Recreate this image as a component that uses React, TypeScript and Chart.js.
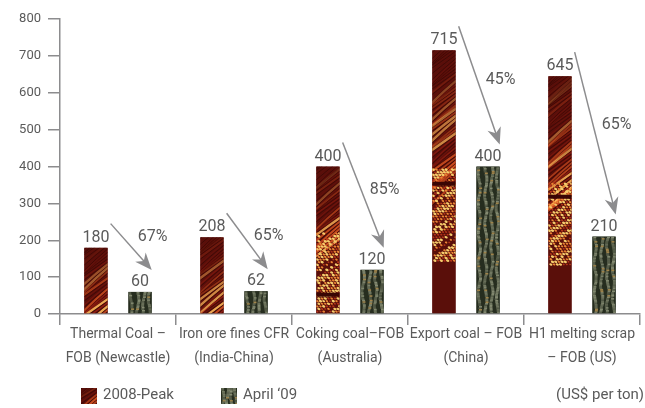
import React, { useEffect, useRef } from 'react';
import { Chart, registerables } from 'chart.js';

Chart.register(...registerables);

// Categories (two-line axis labels)
const categories: string[][] = [
  ['Thermal Coal –', 'FOB (Newcastle)'],
  ['Iron ore fines CFR', '(India-China)'],
  ['Coking coal–FOB', '(Australia)'],
  ['Export coal – FOB', '(China)'],
  ['H1 melting scrap', '– FOB (US)'],
];

// Prices, US$ per ton
const peak2008 = [180, 208, 400, 715, 645];
const april09 = [60, 62, 120, 400, 210];

// Decline from peak to April '09
const declineLabels = ['67%', '65%', '85%', '45%', '65%'];

const yTicks = [0, 100, 200, 300, 400, 500, 600, 700, 800];
const seriesNames = ['2008-Peak', 'April ‘09'];
const unitNote = '(US$ per ton)';

const FONT = 'Roboto, "DejaVu Sans", sans-serif';
const TEXT = '#5a5a5a';
const AXIS = '#8c8c8e';

const hash = (n: number) => {
  const s = Math.sin(n * 127.1 + 311.7) * 43758.5453;
  return s - Math.floor(s);
};

// Molten, ember-like fill for the 2008 peak bars
function paintEmber(ctx: CanvasRenderingContext2D, x: number, y: number, w: number, h: number) {
  ctx.save();
  ctx.beginPath();
  ctx.rect(x, y, w, h);
  ctx.clip();
  ctx.fillStyle = '#5a0f0a';
  ctx.fillRect(x, y, w, h);

  const tall = h > 180;
  const medium = !tall && h > 110;
  const streakEnd = tall || medium ? y + h * 0.5 : y + h;

  // diagonal streaks rising to the right, brighter further down
  for (let sy = y - w; sy < streakEnd + w * 0.5; sy += 3.5) {
    const i = Math.round(sy * 3.1 + x);
    const r = hash(i);
    const depth = tall || medium ? (sy - y) / (h * 0.5) : (sy - y) / h;
    const bright = Math.max(0, Math.min(1, depth * 1.05)) * (0.25 + r * 0.75);
    const col = r > 0.78 ? '255,185,90' : r > 0.42 ? '236,96,38' : '190,40,22';
    ctx.strokeStyle = `rgba(${col},${bright.toFixed(3)})`;
    ctx.lineWidth = 0.8 + r * 1.8;
    ctx.beginPath();
    const wob = Math.sin(sy * 0.3) * 3;
    ctx.moveTo(x - 2, sy + w * 0.5 + wob);
    ctx.quadraticCurveTo(x + w * 0.5, sy + wob * 0.3, x + w + 2, sy - w * 0.45);
    ctx.stroke();
    ctx.strokeStyle = 'rgba(36,4,2,0.5)';
    ctx.lineWidth = 0.9;
    ctx.beginPath();
    ctx.moveTo(x - 2, sy + w * 0.5 + wob + 2);
    ctx.quadraticCurveTo(x + w * 0.5, sy + wob * 0.3 + 2, x + w + 2, sy - w * 0.45 + 2);
    ctx.stroke();
  }

  // speckled, glowing section
  if (tall || medium) {
    const s0 = y + h * 0.45;
    const s1 = tall ? y + h * 0.8 : y + h;
    let row = 0;
    for (let sy = s0; sy < s1; sy += 2.6, row++) {
      for (let sx = x + (row % 2) * 1.6; sx < x + w; sx += 3.2) {
        const r = hash(Math.round(sx * 7 + sy * 13));
        if (r < 0.12) continue;
        const col = r > 0.72 ? '#f6cc6c' : r > 0.38 ? '#ea8434' : '#b3341a';
        ctx.fillStyle = col;
        ctx.beginPath();
        ctx.ellipse(sx + 1, sy + 1, 0.9 + r * 0.9, 0.7 + r * 0.5, 0.4, 0, Math.PI * 2);
        ctx.fill();
      }
    }
    // dark seam across the bar
    const band = tall ? y + h * 0.5 : y + h * 0.86;
    ctx.fillStyle = '#3a0604';
    ctx.fillRect(x, band, w, 4);
  }
  ctx.restore();
}

// Weathered, mossy fill for the April '09 bars
function paintMoss(ctx: CanvasRenderingContext2D, x: number, y: number, w: number, h: number) {
  ctx.save();
  ctx.beginPath();
  ctx.rect(x, y, w, h);
  ctx.clip();
  ctx.fillStyle = '#262d1f';
  ctx.fillRect(x, y, w, h);
  const cols = [0.12, 0.4, 0.66, 0.9];
  cols.forEach((c, k) => {
    for (let yy = y; yy < y + h; yy += 1.5) {
      const r = hash(Math.round(yy * 5 + k * 97));
      const off = Math.sin(yy * 0.21 + k * 1.7) * 1.1 + (r - 0.5) * 0.8;
      const a = 0.3 + r * 0.55;
      ctx.fillStyle = r > 0.9 ? `rgba(185,150,85,${a})` : `rgba(160,166,138,${a})`;
      ctx.fillRect(x + c * w - 1.5 + off, yy, 3, 1.6);
    }
  });
  ctx.restore();
}

function drawArrow(ctx: CanvasRenderingContext2D, x1: number, y1: number, x2: number, y2: number) {
  const ang = Math.atan2(y2 - y1, x2 - x1);
  const cos = Math.cos(ang);
  const sin = Math.sin(ang);
  const len = 17;
  const half = 7;
  const bx = x2 - cos * len;
  const by = y2 - sin * len;
  ctx.save();
  ctx.strokeStyle = AXIS;
  ctx.fillStyle = AXIS;
  ctx.lineWidth = 1.5;
  ctx.beginPath();
  ctx.moveTo(x1, y1);
  ctx.lineTo(x2 - cos * len * 0.6, y2 - sin * len * 0.6);
  ctx.stroke();
  ctx.beginPath();
  ctx.moveTo(x2, y2);
  ctx.lineTo(bx - sin * half, by + cos * half);
  ctx.lineTo(x2 - cos * len * 0.7, y2 - sin * len * 0.7);
  ctx.lineTo(bx + sin * half, by - cos * half);
  ctx.closePath();
  ctx.fill();
  ctx.restore();
}

const decorPlugin = {
  id: 'priceDecor',
  afterDatasetsDraw(chart: any) {
    const ctx: CanvasRenderingContext2D = chart.ctx;
    const painters = [paintEmber, paintMoss];
    [0, 1].forEach((d) => {
      chart.getDatasetMeta(d).data.forEach((bar: any) => {
        const { x, y, base, width } = bar.getProps(['x', 'y', 'base', 'width'], true);
        painters[d](ctx, x - width / 2, y, width, base - y);
      });
    });
  },
  afterDraw(chart: any) {
    const ctx: CanvasRenderingContext2D = chart.ctx;
    const yScale = chart.scales.y;
    const peakMeta = chart.getDatasetMeta(0);
    const aprMeta = chart.getDatasetMeta(1);
    ctx.save();
    ctx.font = `16px ${FONT}`;
    ctx.textAlign = 'center';

    peak2008.forEach((v, i) => {
      const pb = peakMeta.data[i];
      const ab = aprMeta.data[i];
      const pTop = yScale.getPixelForValue(v);
      const aTop = yScale.getPixelForValue(april09[i]);
      ctx.fillStyle = TEXT;
      ctx.textBaseline = 'alphabetic';
      ctx.fillText(String(v), pb.x, pTop - 6);
      ctx.fillText(String(april09[i]), ab.x, aTop - 6);

      const x1 = pb.x + pb.width / 2 + 3;
      const y1 = pTop - 24;
      const x2 = ab.x + ab.width / 2;
      const y2 = aTop - 22;
      drawArrow(ctx, x1, y1, x2, y2);

      const ly = Math.min(y1 + (y2 - y1) * 0.45, y2 - 33);
      ctx.fillStyle = TEXT;
      ctx.textBaseline = 'middle';
      ctx.fillText(declineLabels[i], x2 + 1, ly);
    });

    // legend row
    const ly = 395.5;
    paintEmber(ctx, 81, 388, 16, 16);
    paintMoss(ctx, 221, 388, 16, 16);
    ctx.font = `15px ${FONT}`;
    ctx.textAlign = 'left';
    ctx.textBaseline = 'middle';
    ctx.fillStyle = TEXT;
    ctx.fillText(seriesNames[0], 103, ly);
    ctx.fillText(seriesNames[1], 243, ly);
    ctx.textAlign = 'right';
    ctx.fillText(unitNote, 644, ly);
    ctx.restore();
  },
};

export default function App() {
  const ref = useRef<HTMLCanvasElement | null>(null);

  useEffect(() => {
    document.body.style.margin = '0';
    const canvas = ref.current;
    if (!canvas) return;
    const chart = new Chart(canvas, {
      type: 'bar',
      data: {
        labels: categories,
        datasets: [
          {
            label: seriesNames[0],
            data: peak2008,
            backgroundColor: '#5a0f0a',
            categoryPercentage: 0.76,
            barPercentage: 0.53,
          },
          {
            label: seriesNames[1],
            data: april09,
            backgroundColor: '#262d1f',
            categoryPercentage: 0.76,
            barPercentage: 0.53,
          },
        ],
      },
      options: {
        animation: false,
        responsive: false,
        devicePixelRatio: 1,
        layout: { padding: { top: 19, right: 5, left: 0, bottom: 0 } },
        plugins: {
          legend: { display: false },
          tooltip: { enabled: false },
        },
        scales: {
          x: {
            grid: {
              display: true,
              drawOnChartArea: false,
              drawTicks: true,
              tickLength: 11,
              color: AXIS,
              lineWidth: 1.5,
              offset: true,
            },
            border: { display: true, color: AXIS, width: 1.5 },
            ticks: {
              color: TEXT,
              font: { family: FONT, size: 14, lineHeight: 1.7 },
              padding: -2,
              maxRotation: 0,
              autoSkip: false,
            },
            afterFit: (s: any) => {
              s.height = 94;
            },
          },
          y: {
            min: 0,
            max: 800,
            afterBuildTicks: (s: any) => {
              s.ticks = yTicks.map((v) => ({ value: v }));
            },
            ticks: {
              color: TEXT,
              font: { family: FONT, size: 13 },
              padding: 7,
            },
            grid: {
              drawOnChartArea: false,
              tickLength: 12,
              color: AXIS,
              lineWidth: 1.5,
            },
            border: { display: true, color: AXIS, width: 1.5 },
            afterFit: (s: any) => {
              s.width = 60;
            },
          },
        },
      },
      plugins: [decorPlugin],
    } as any);
    return () => chart.destroy();
  }, []);

  return (
    <div style={{ position: 'fixed', left: 0, top: 0, width: 645, height: 408, background: '#ffffff' }}>
      <canvas ref={ref} width={645} height={408} />
    </div>
  );
}
